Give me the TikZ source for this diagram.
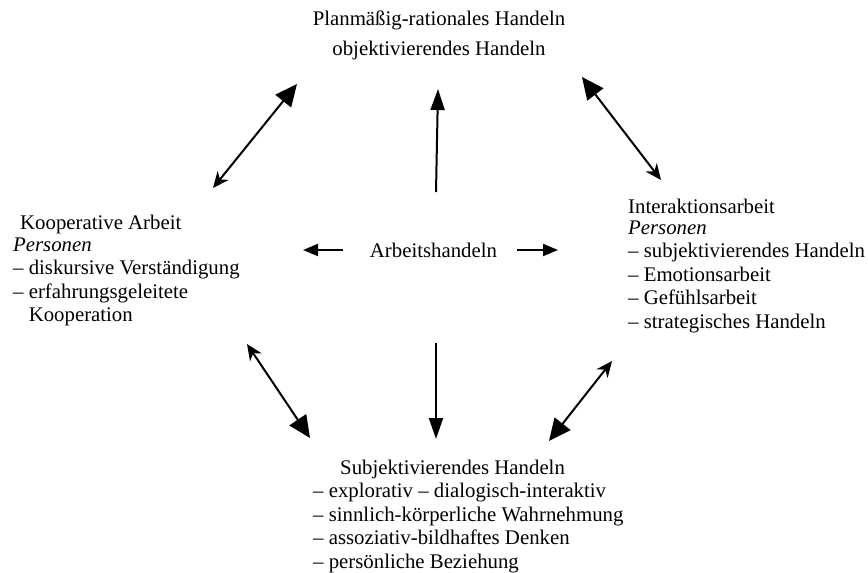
\documentclass[tikz,border=0pt]{standalone}
\usepackage{fontspec}
\setmainfont{Liberation Serif}
\usetikzlibrary{arrows.meta}

\begin{document}
\begin{tikzpicture}[x=1pt,y=-1pt,
	pfeil/.style={line width=2pt},
	block/.style={anchor=north west,inner sep=0pt,align=left,
		font=\fontsize{20.8}{23.5}\selectfont},
	gross/.tip={Triangle[length=22pt,width=20pt]},
	klein/.tip={Stealth[length=16pt,width=14pt,inset=5pt]},
	mittel/.tip={Triangle[length=21pt,width=14pt]},
	kurz/.tip={Triangle[length=15pt,width=12pt]}]
	
	\useasboundingbox (0,0) rectangle (868,573);
	
	\coordinate (lo1) at (213,188); % links oben
	\coordinate (lo2) at (297,84);
	\coordinate (ro1) at (661,180); % rechts oben
	\coordinate (ro2) at (582,77);
	\coordinate (lu1) at (247,344); % links unten
	\coordinate (lu2) at (310,438);
	\coordinate (ru1) at (612,361); % rechts unten
	\coordinate (ru2) at (549,441);
	
	\coordinate (auf1) at (436,192); % um das Arbeitshandeln
	\coordinate (auf2) at (438,89);
	\coordinate (ab1) at (436,343);
	\coordinate (ab2) at (436,439);
	\coordinate (li1) at (343,250);
	\coordinate (li2) at (303,250);
	\coordinate (re1) at (517,250);
	\coordinate (re2) at (558,250);
	
	\node[block,anchor=north,align=center] (plan) at (439,10.8)
		{Planmäßig-rationales Handeln\\[6.5pt]objektivierendes Handeln};
	\node[block,anchor=base] (hub) at (433.5,257) {Arbeitshandeln};
	
	\node[block] (koop) at (13,214.8)
		{\hspace*{7pt}Kooperative Arbeit\\[-1.5pt]
		\textit{Personen}\\
		– diskursive Verständigung\\
		– erfahrungsgeleitete\\
		\hphantom{– }Kooperation};
	\node[block] (inter) at (628,198.8)
		{Interaktionsarbeit\\[-2.5pt]
		\textit{Personen}\\
		– subjektivierendes Handeln\\
		– Emotionsarbeit\\
		– Gefühlsarbeit\\
		– strategisches Handeln};
	\node[block] (subj) at (313,459.8)
		{\hspace*{27pt}Subjektivierendes Handeln\\
		– explorativ – dialogisch-interaktiv\\
		– sinnlich-körperliche Wahrnehmung\\
		– assoziativ-bildhaftes Denken\\
		– persönliche Beziehung};
	
	\draw[pfeil,klein-gross] (lo1) -- (lo2);
	\draw[pfeil,gross-klein] (ro2) -- (ro1);
	\draw[pfeil,klein-gross] (lu1) -- (lu2);
	\draw[pfeil,klein-gross] (ru1) -- (ru2);
	
	\draw[pfeil,-mittel] (auf1) -- (auf2);
	\draw[pfeil,-mittel] (ab1) -- (ab2);
	\draw[pfeil,-kurz] (li1) -- (li2);
	\draw[pfeil,-kurz] (re1) -- (re2);
	
\end{tikzpicture}
\end{document}
